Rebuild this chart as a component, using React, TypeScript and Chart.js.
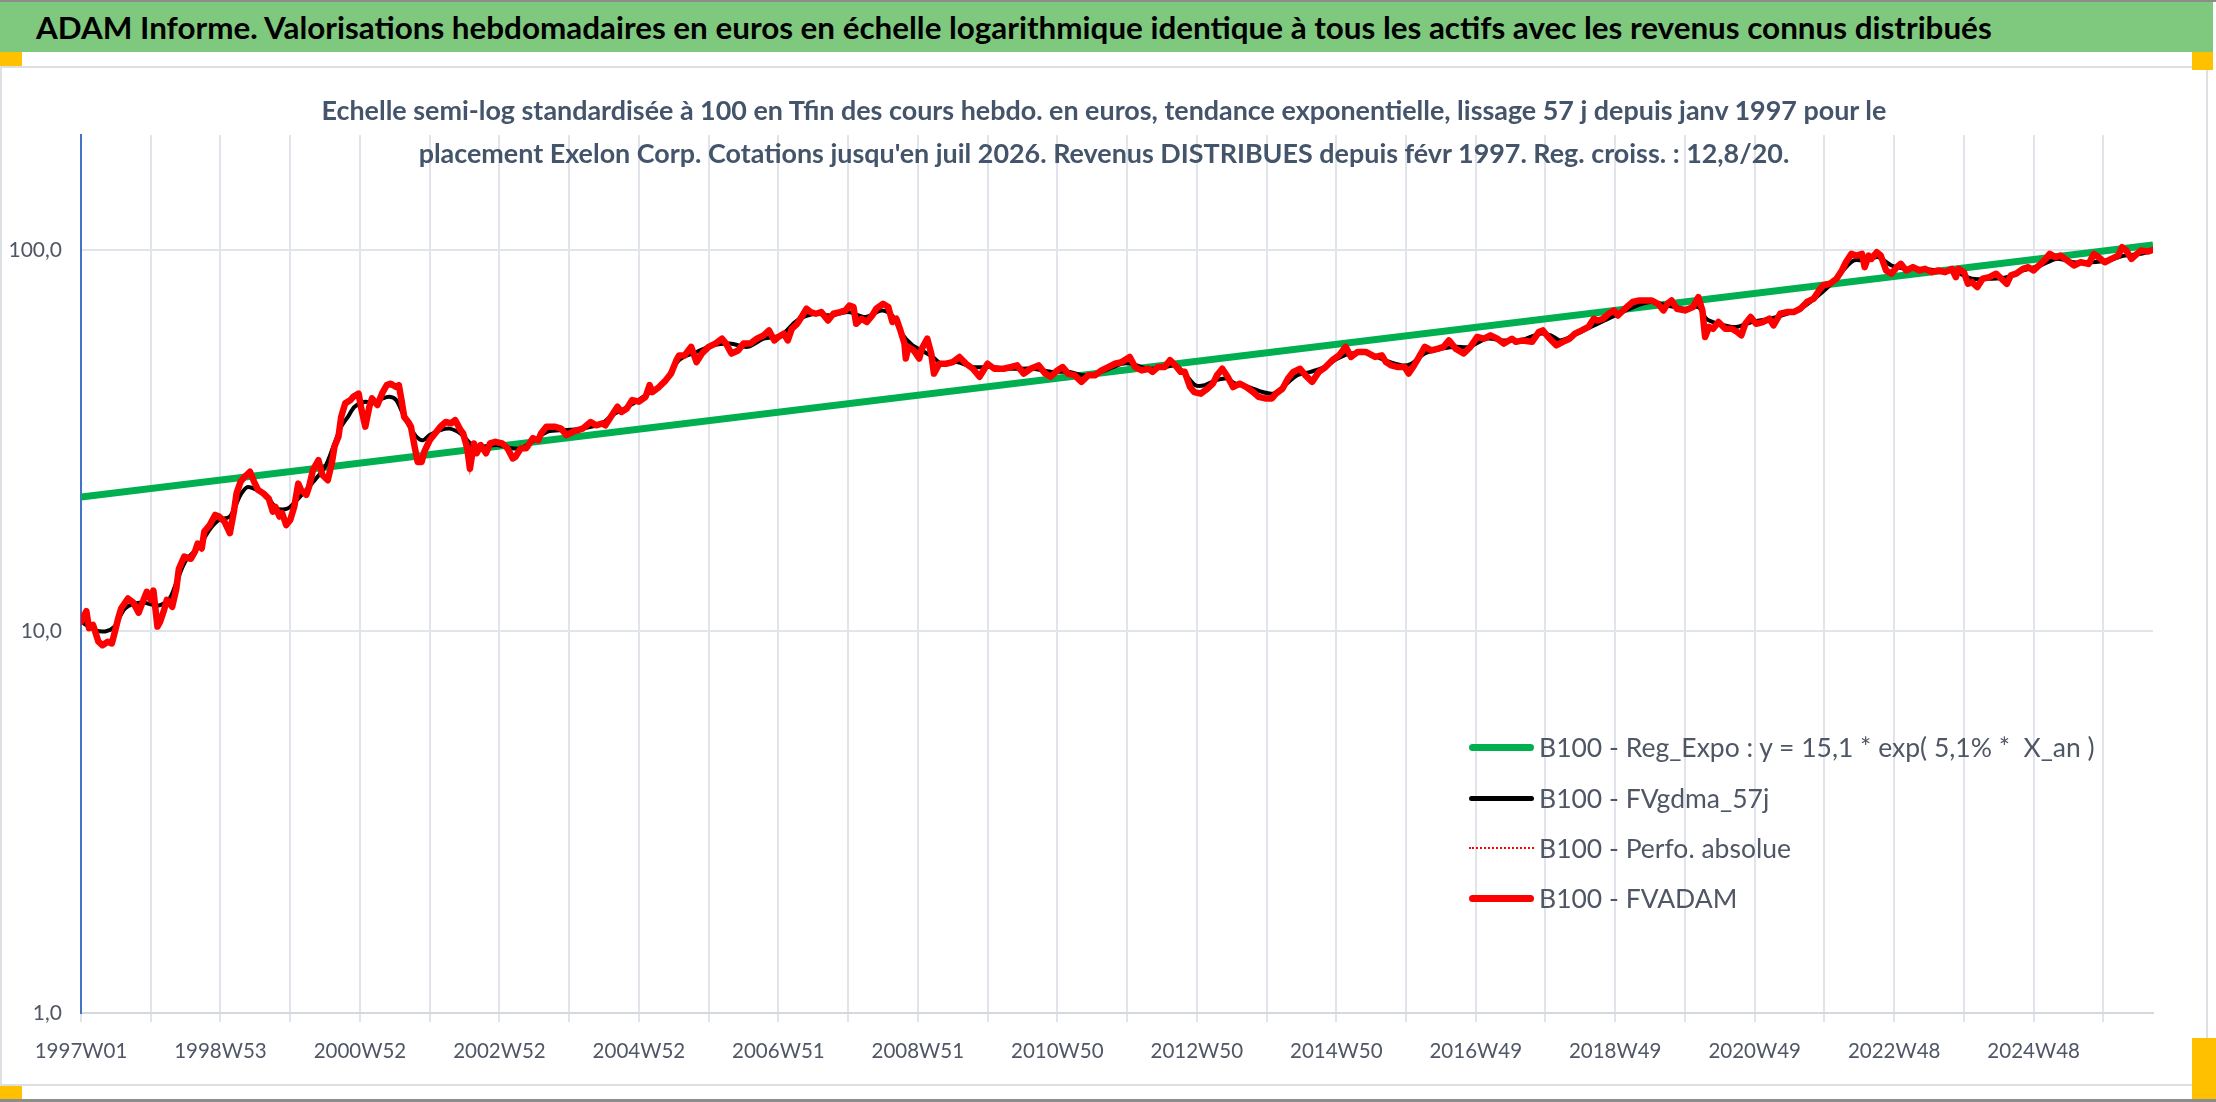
import React, { useEffect, useRef } from 'react';
import { Chart, registerables } from 'chart.js';

Chart.register(...registerables);

// ---------- Data ----------
const TITLE = 'ADAM Informe. Valorisations hebdomadaires en euros en échelle logarithmique identique à tous les actifs avec les revenus connus distribués';
const SUBTITLE_LINES = [
  'Echelle semi-log standardisée à 100 en Tfin des cours hebdo. en euros, tendance exponentielle, lissage 57 j depuis janv 1997 pour le',
  "placement Exelon Corp. Cotations jusqu'en juil 2026. Revenus DISTRIBUES depuis févr 1997. Reg. croiss. : 12,8/20.",
];

const X_TICK_LABELS = [
  '1997W01', '1998W53', '2000W52', '2002W52', '2004W52', '2006W51', '2008W51', '2010W50',
  '2012W50', '2014W50', '2016W49', '2018W49', '2020W49', '2022W48', '2024W48',
];
const WEEKS_PER_LABEL = 104;
const WEEKS_PER_GRID = 52;
const GRID_LINES = 30;
const LAST_WEEK = 1545;

const Y_TICKS = [1, 10, 100];
const Y_TICK_LABELS = ['1,0', '10,0', '100,0'];
const Y_MIN = 1;
const Y_MAX = 200;

const LEGEND_LABELS = [
  'B100 - Reg_Expo : y = 15,1 * exp( 5,1% *  X_an )',
  'B100 - FVgdma_57j',
  'B100 - Perfo. absolue',
  'B100 - FVADAM',
];

// [week index since 1997W01, value]
const REG_EXPO: [number, number][] = [[0, 22.5], [1545, 103]];

const FVADAM: [number, number][] = [
  [0, 10.6], [4, 11.3], [6, 10.2], [9, 10.4], [13, 9.4], [16, 9.2], [20, 9.4], [23, 9.3], [25, 9.9], [28, 10.9],
  [30, 11.5], [35, 12.2], [39, 11.9], [43, 11.2], [45, 11.7], [49, 12.7], [52, 12.1], [54, 12.8], [57, 10.3], [59, 10.6],
  [62, 11.4], [64, 12.1], [68, 11.6], [71, 12.9], [73, 14.6], [77, 15.7], [82, 15.5], [85, 16.2], [87, 17.0], [90, 16.5],
  [92, 18.3], [96, 19.0], [100, 20.2], [103, 20.0], [107, 19.4], [111, 18.1], [114, 20.6], [116, 23.0], [119, 24.7], [122, 25.4],
  [126, 26.2], [129, 24.7], [132, 23.5], [136, 23.0], [140, 22.3], [143, 20.6], [145, 21.2], [148, 20.0], [150, 20.4], [153, 19.0],
  [156, 19.6], [159, 21.2], [162, 24.4], [164, 23.5], [168, 22.8], [170, 23.9], [173, 26.5], [177, 28.1], [180, 25.7], [184, 24.9],
  [187, 27.6], [189, 30.5], [192, 32.4], [194, 36.5], [197, 39.6], [201, 40.4], [203, 41.2], [207, 42.0], [209, 38.4], [212, 34.4],
  [215, 38.8], [217, 40.8], [221, 39.2], [225, 42.4], [228, 44.2], [231, 44.6], [235, 43.7], [237, 44.2], [239, 40.4], [241, 36.5],
  [244, 35.4], [246, 34.4], [249, 30.2], [251, 27.8], [254, 27.8], [256, 29.6], [260, 31.7], [264, 33.0], [268, 34.4], [272, 35.4],
  [276, 35.1], [279, 35.8], [283, 33.7], [285, 33.0], [288, 30.2], [290, 26.7], [293, 31.1], [295, 29.3], [298, 30.8], [302, 29.3],
  [305, 31.1], [309, 31.4], [314, 31.1], [318, 30.2], [322, 28.4], [324, 28.7], [328, 30.2], [332, 30.2], [337, 32.1], [341, 31.7],
  [343, 33.0], [347, 34.4], [353, 34.4], [358, 34.0], [362, 32.7], [367, 33.4], [374, 34.0], [380, 35.4], [384, 34.7], [389, 35.1],
  [391, 34.7], [395, 36.5], [400, 38.8], [403, 37.6], [407, 38.4], [411, 40.4], [416, 40.0], [421, 41.2], [424, 44.2], [426, 42.4],
  [431, 43.7], [436, 45.5], [440, 47.4], [444, 51.4], [446, 52.9], [450, 52.9], [455, 55.7], [459, 50.8], [463, 53.5], [468, 55.7],
  [473, 56.8], [478, 58.5], [481, 56.8], [485, 53.5], [490, 54.5], [494, 56.8], [499, 56.8], [504, 58.5], [509, 59.7], [513, 61.5],
  [517, 57.9], [520, 59.1], [524, 60.3], [527, 57.9], [530, 62.1], [534, 64.0], [538, 67.3], [541, 70.1], [544, 68.7], [548, 68.0],
  [552, 68.7], [557, 65.3], [561, 68.0], [566, 68.7], [570, 69.4], [573, 71.5], [576, 70.8], [578, 64.0], [582, 66.0], [586, 64.7],
  [590, 67.3], [593, 70.1], [598, 72.2], [602, 70.8], [605, 64.7], [608, 66.0], [611, 61.5], [614, 56.8], [615, 51.9], [617, 55.7],
  [621, 54.5], [625, 51.9], [627, 55.1], [631, 58.5], [634, 53.5], [636, 47.4], [640, 50.3], [645, 50.3], [650, 50.8], [655, 52.4],
  [660, 50.3], [665, 48.8], [670, 46.5], [676, 50.3], [681, 48.8], [688, 48.8], [693, 49.3], [698, 49.8], [703, 47.4], [708, 48.8],
  [714, 49.8], [719, 47.4], [723, 46.5], [728, 48.3], [732, 49.3], [736, 47.4], [741, 46.9], [746, 45.1], [751, 46.9], [756, 46.9],
  [761, 48.3], [766, 49.3], [771, 50.3], [776, 50.8],
  [782, 52.4], [786, 49.3], [791, 48.3], [796, 48.8], [799, 47.9], [803, 49.3], [808, 49.3], [812, 51.4], [816, 49.8], [820, 47.9],
  [823, 47.9], [827, 43.7], [830, 42.4], [835, 42.0], [840, 43.3], [844, 44.6], [847, 46.9], [851, 48.8], [855, 46.5], [859, 43.7],
  [864, 44.6], [869, 43.7], [874, 42.4], [878, 41.2], [883, 40.8], [888, 40.8], [891, 42.0], [896, 43.3], [900, 46.0], [904, 47.9],
  [909, 48.8], [913, 46.9], [918, 45.1], [923, 47.9], [928, 49.3], [933, 51.4], [938, 52.9], [943, 55.7], [947, 52.4], [952, 54.0],
  [958, 54.0], [965, 52.4], [970, 52.9], [973, 50.8], [977, 49.8], [982, 49.3], [987, 49.3], [990, 47.4], [994, 49.8], [997, 51.9],
  [1002, 55.7], [1007, 54.5], [1012, 55.1], [1016, 55.7], [1020, 57.9], [1025, 55.1], [1031, 53.5], [1036, 55.7], [1041, 59.1], [1046, 58.5],
  [1051, 59.7], [1056, 58.5], [1061, 56.8], [1067, 58.5], [1070, 57.4], [1075, 57.9], [1082, 57.4], [1087, 60.9], [1090, 61.5], [1094, 59.1],
  [1100, 56.2], [1105, 57.4], [1110, 58.5], [1114, 60.3], [1119, 61.5], [1124, 62.8], [1128, 66.0], [1131, 65.3], [1135, 66.0], [1139, 68.0],
  [1143, 69.4], [1146, 67.3], [1150, 69.4], [1154, 71.5], [1157, 73.0], [1162, 73.7],
  [1171, 73.7], [1176, 72.2], [1180, 69.4], [1183, 72.2], [1186, 73.7], [1190, 70.1], [1196, 69.4], [1202, 70.8], [1206, 75.2], [1209, 69.4],
  [1211, 59.1], [1214, 62.8], [1217, 62.1], [1221, 64.7], [1226, 62.1], [1231, 62.1], [1235, 60.9], [1238, 59.7], [1241, 64.0], [1245, 66.7],
  [1249, 64.0], [1254, 64.7], [1259, 66.0], [1262, 63.4], [1267, 68.0], [1272, 68.7], [1277, 68.7], [1282, 70.1], [1287, 73.0], [1292, 74.5],
  [1296, 78.3], [1299, 80.7], [1304, 81.5], [1309, 84.0], [1313, 88.3], [1316, 92.8], [1320, 97.6], [1324, 96.6], [1328, 97.6], [1330, 90.1],
  [1333, 96.6], [1335, 94.7], [1339, 98.6], [1342, 96.6], [1346, 88.3], [1350, 86.6], [1354, 90.1], [1357, 91.9], [1361, 88.3], [1366, 90.1],
  [1371, 88.3], [1375, 89.2], [1380, 87.4], [1385, 88.3], [1390, 87.4], [1395, 89.2], [1398, 84.8], [1400, 89.2], [1404, 87.4], [1407, 81.5],
  [1410, 82.3], [1414, 79.9], [1418, 84.0], [1423, 84.8], [1428, 86.6], [1432, 84.0], [1436, 81.5], [1439, 85.7], [1443, 86.6], [1448, 89.2],
  [1452, 90.1], [1456, 88.3], [1460, 91.0], [1465, 94.7], [1468, 97.6], [1472, 95.7], [1476, 96.6], [1481, 93.8], [1486, 91.0], [1491, 92.8],
  [1497, 91.9], [1501, 97.6], [1506, 94.7], [1509, 92.8], [1514, 94.7], [1519, 96.6], [1522, 101.6], [1525, 99.6], [1529, 94.7], [1533, 97.6],
  [1536, 99.6], [1541, 99.0], [1545, 100.0],
];

const FVGDMA_57J: [number, number][] = [
  [0, 10.6], [10, 10.1], [18, 10.0], [25, 10.3], [33, 11.5], [45, 11.9], [58, 11.7], [66, 12.2], [71, 13.4], [78, 15.3],
  [88, 16.7], [96, 18.5], [103, 19.6], [111, 20.0], [119, 22.8], [124, 23.9], [131, 23.5], [139, 22.5], [146, 21.0], [154, 21.0],
  [162, 22.3], [172, 24.4], [182, 27.0], [189, 31.1], [194, 34.4], [199, 36.5], [204, 38.8], [212, 40.0], [217, 39.6], [225, 40.8],
  [230, 41.2], [235, 40.4], [240, 37.2], [245, 34.4], [250, 32.4], [255, 31.7], [260, 32.7], [268, 33.7], [275, 34.0], [283, 33.0],
  [288, 31.7], [293, 30.5], [300, 30.5], [310, 30.8], [321, 30.2], [328, 30.2], [338, 31.7], [348, 33.4], [361, 33.7], [374, 34.0],
  [389, 35.2], [396, 36.9], [408, 38.8], [421, 41.6], [434, 44.6], [446, 51.4], [459, 54.0], [471, 56.2], [484, 56.8], [497, 55.7],
  [509, 58.5], [522, 59.7], [534, 65.3], [547, 68.0], [559, 67.3], [572, 68.7], [585, 66.7], [597, 69.4], [605, 67.3], [612, 60.3],
  [620, 56.2], [627, 54.5], [635, 52.4], [642, 50.3], [653, 50.8], [665, 49.3], [678, 49.3], [693, 48.8], [710, 48.8], [723, 47.9],
  [736, 47.9], [748, 46.9], [761, 47.9], [776, 50.3], [783, 50.3], [796, 48.8], [808, 49.3], [816, 49.8], [823, 47.4], [831, 44.2],
  [838, 44.2], [846, 45.5], [854, 46.0], [861, 44.6], [871, 43.7], [881, 42.4], [889, 42.0], [896, 43.7], [907, 46.9], [917, 47.9],
  [927, 49.3], [937, 51.9], [947, 53.5], [960, 53.5], [972, 51.4], [985, 49.8], [992, 50.3], [1002, 53.5], [1015, 55.1], [1025, 55.7],
  [1035, 55.7], [1048, 58.5], [1060, 57.9], [1073, 57.9], [1088, 60.3], [1096, 59.7], [1103, 57.9], [1113, 59.7], [1123, 62.1], [1136, 65.3],
  [1149, 68.7], [1164, 72.2], [1171, 73.0], [1183, 71.5], [1196, 70.1], [1206, 70.8], [1212, 66.0], [1221, 64.0], [1234, 62.8], [1246, 64.7],
  [1259, 66.0], [1272, 68.0], [1284, 70.8], [1294, 75.2], [1304, 80.7], [1315, 89.2], [1322, 93.8], [1330, 93.8], [1340, 95.7], [1350, 91.0],
  [1360, 89.2], [1373, 89.2], [1385, 88.3], [1398, 87.4], [1410, 84.0], [1423, 84.0], [1436, 84.8], [1448, 88.3], [1461, 91.0], [1473, 94.7],
  [1486, 92.8], [1499, 92.8], [1511, 93.8], [1524, 96.6], [1536, 97.6], [1545, 99.6],
];

// Dotted "Perfo. absolue" series coincides with FVADAM in the picture
const PERFO_ABSOLUE: [number, number][] = FVADAM;

// ---------- Styles ----------
const FONT = 'Lato, "Noto Sans", sans-serif';
const TEXT_COLOR = '#4f5665';
const GRID_COLOR = '#e1e4ea';

const toXY = (pts: [number, number][]) => pts.map(([x, y]) => ({ x, y }));

const gridWeeks: number[] = [];
for (let k = 0; k < GRID_LINES; k++) gridWeeks.push(k * WEEKS_PER_GRID);

export default function App() {
  const canvasRef = useRef<HTMLCanvasElement | null>(null);

  useEffect(() => {
    if (!canvasRef.current) return;
    const chart = new Chart(canvasRef.current, {
      type: 'line',
      data: {
        datasets: [
          {
            label: LEGEND_LABELS[3],
            data: toXY(FVADAM),
            borderColor: '#FF0000',
            borderWidth: 6.5,
            pointRadius: 0,
            tension: 0,
            borderJoinStyle: 'round',
            borderCapStyle: 'round',
            order: 0,
          },
          {
            label: LEGEND_LABELS[2],
            data: toXY(PERFO_ABSOLUE),
            borderColor: '#FF0000',
            borderWidth: 2,
            borderDash: [2, 2],
            pointRadius: 0,
            tension: 0,
            order: 1,
          },
          {
            label: LEGEND_LABELS[1],
            data: toXY(FVGDMA_57J),
            borderColor: '#000000',
            borderWidth: 4,
            pointRadius: 0,
            tension: 0.3,
            borderJoinStyle: 'round',
            order: 2,
          },
          {
            label: LEGEND_LABELS[0],
            data: toXY(REG_EXPO),
            borderColor: '#00B050',
            borderWidth: 7,
            pointRadius: 0,
            tension: 0,
            order: 3,
          },
        ],
      },
      options: {
        animation: false,
        responsive: false,
        maintainAspectRatio: false,
        events: [],
        layout: { padding: { left: 0, right: 63, top: 135, bottom: 29 } },
        plugins: {
          legend: { display: false },
          title: { display: false },
          tooltip: { enabled: false },
        },
        scales: {
          x: {
            type: 'linear',
            min: 0,
            max: LAST_WEEK,
            afterBuildTicks: (scale: any) => {
              scale.ticks = gridWeeks.map((v) => ({ value: v }));
            },
            afterFit: (scale: any) => {
              scale.height = 60;
            },
            ticks: {
              autoSkip: false,
              maxRotation: 0,
              minRotation: 0,
              padding: 17,
              color: TEXT_COLOR,
              font: { family: FONT, size: 20.5 },
              callback: (value: any) => {
                const v = Number(value);
                if (v % WEEKS_PER_LABEL !== 0) return '';
                return X_TICK_LABELS[v / WEEKS_PER_LABEL] ?? '';
              },
            },
            grid: {
              color: (ctx: any) => (ctx.tick && ctx.tick.value === 0 ? 'rgba(0,0,0,0)' : GRID_COLOR),
              tickColor: GRID_COLOR,
              lineWidth: 2,
              tickLength: 9,
              drawTicks: true,
            },
            border: { color: '#d5d8de', width: 2 },
          },
          y: {
            type: 'logarithmic',
            min: Y_MIN,
            max: Y_MAX,
            afterBuildTicks: (scale: any) => {
              scale.ticks = Y_TICKS.map((v) => ({ value: v }));
            },
            afterFit: (scale: any) => {
              scale.width = 81;
            },
            ticks: {
              padding: 19,
              color: TEXT_COLOR,
              font: { family: FONT, size: 21 },
              callback: (value: any) => {
                const i = Y_TICKS.indexOf(Number(value));
                return i >= 0 ? Y_TICK_LABELS[i] : '';
              },
            },
            grid: { color: GRID_COLOR, lineWidth: 2, drawTicks: false },
            border: { color: '#4472C4', width: 2 },
          },
        },
      },
    } as any);
    return () => chart.destroy();
  }, []);

  const abs = (s: React.CSSProperties): React.CSSProperties => ({ position: 'absolute', ...s });
  const ORANGE = '#FFC000';

  const legendRows = [
    { y: 747, kind: 'green' },
    { y: 798, kind: 'black' },
    { y: 848, kind: 'dotted' },
    { y: 898, kind: 'red' },
  ];

  const renderLegendLine = (kind: string, cy: number) => {
    const left = 1469;
    const width = 65;
    if (kind === 'dotted') {
      return <div style={abs({ left, top: cy - 1, width, height: 0, borderTop: '2px dotted #FF0000' })} />;
    }
    const h = kind === 'black' ? 5 : 7;
    const c = kind === 'green' ? '#00B050' : kind === 'black' ? '#000000' : '#FF0000';
    return <div style={abs({ left, top: cy - h / 2, width, height: h, background: c, borderRadius: h / 2 })} />;
  };

  return (
    <div style={abs({ position: 'fixed', left: 0, top: 0, width: 2216, height: 1102, background: '#ffffff', overflow: 'hidden', fontFamily: FONT })}>
      <div style={abs({ left: 0, top: 0, width: 2216, height: 2, background: '#8c8c8c' })} />
      <div style={abs({ left: 0, top: 2, width: 2213, height: 50, background: '#7FC97F' })} />
      <div style={abs({ left: 36, top: 2, height: 50, lineHeight: '50px', fontSize: 31.4, fontWeight: 700, color: '#000000', whiteSpace: 'nowrap' })}>
        {TITLE}
      </div>
      <div style={abs({ left: 0, top: 66, width: 2208, height: 1020, border: '2px solid #dcdfe4', boxSizing: 'border-box' })} />
      <div style={abs({ left: 0, top: 1099, width: 2216, height: 3, background: '#8c8c8c' })} />
      <div style={abs({ left: 0, top: 52, width: 22, height: 14, background: ORANGE })} />
      <div style={abs({ left: 2192, top: 52, width: 21, height: 18, background: ORANGE })} />
      <div style={abs({ left: 0, top: 1086, width: 22, height: 13, background: ORANGE })} />
      <div style={abs({ left: 2192, top: 1038, width: 24, height: 61, background: ORANGE })} />

      <canvas ref={canvasRef} width={2216} height={1102} style={abs({ left: 0, top: 0, width: 2216, height: 1102 })} />

      <div style={abs({ left: 0, top: 88, width: 2208, textAlign: 'center', fontSize: 26.9, fontWeight: 700, color: '#44546A', lineHeight: '43px' })}>
        {SUBTITLE_LINES.map((l, i) => (
          <div key={i} style={{ whiteSpace: 'nowrap' }}>{l}</div>
        ))}
      </div>

      {legendRows.map((r, i) => (
        <React.Fragment key={i}>
          {renderLegendLine(r.kind, r.y)}
          <div style={abs({ left: 1539, top: r.y - 25, height: 50, lineHeight: '50px', fontSize: 26.5, color: TEXT_COLOR, whiteSpace: 'pre' })}>
            {LEGEND_LABELS[i]}
          </div>
        </React.Fragment>
      ))}
    </div>
  );
}
